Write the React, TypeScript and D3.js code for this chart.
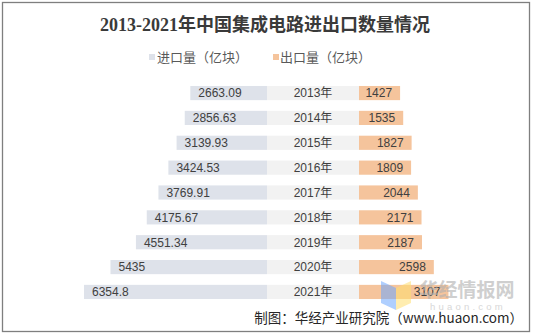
import React from "react";
import * as d3 from "d3";

const years = ["2013年", "2014年", "2015年", "2016年", "2017年", "2018年", "2019年", "2020年", "2021年"];
const importVals = [2663.09, 2856.63, 3139.93, 3424.53, 3769.91, 4175.67, 4551.34, 5435, 6354.8];
const exportVals = [1427, 1535, 1827, 1809, 2044, 2171, 2187, 2598, 3107];
const importLabels = ["2663.09", "2856.63", "3139.93", "3424.53", "3769.91", "4175.67", "4551.34", "5435", "6354.8"];
const seriesNames = ["进口量（亿块）", "出口量（亿块）"];
const title = "2013-2021年中国集成电路进出口数量情况";
const source = "制图：华经产业研究院（www.huaon.com）";

const W = 533;
const H = 334;
const colImport = "#dee2ea";
const colMid = "#f2f2f2";
const colExport = "#f5c49c";
const textCol = "#404040";

export default function App() {
  const centerL = 267;
  const centerR = 359;
  const len = d3.scaleLinear().domain([0, 6354.8]).range([0, 183]);
  const y = d3.scaleBand().domain(years).range([81, 304]).paddingInner(0.43).paddingOuter(0.2);
  const bh = y.bandwidth();
  const sans = "'Liberation Sans', Arial, 'Noto Sans CJK SC', sans-serif";
  const cjk = "'Noto Sans CJK SC', sans-serif";
  return (
    <svg width={W} height={H} style={{ position: "absolute", left: 0, top: 0, display: "block" }}>
      <rect x={0} y={0} width={W} height={H} fill="#fff" />
      <rect x={2.5} y={2.5} width={527} height={329} fill="none" stroke="#7f7f7f" strokeWidth={1.3} />
      <text x={265} y={31} textAnchor="middle" fontSize={18} fontWeight="bold" fill="#3a3a3a"
        fontFamily="'Liberation Serif', 'Noto Sans CJK SC', serif">{title}</text>
      {/* legend */}
      <rect x={149} y={54} width={6} height={6} fill={colImport} />
      <text x={157} y={62} fontSize={13} fill="#595959" fontFamily={cjk}>{seriesNames[0]}</text>
      <rect x={273} y={54} width={6} height={6} fill={colExport} />
      <text x={280} y={62} fontSize={13} fill="#595959" fontFamily={cjk}>{seriesNames[1]}</text>
      {years.map((yr, i) => {
        const yy = y(yr) as number;
        const iw = len(importVals[i]);
        const ew = len(exportVals[i]);
        return (
          <g key={yr}>
            <rect x={centerL - iw} y={yy} width={iw} height={bh} fill={colImport} />
            <rect x={centerL} y={yy} width={centerR - centerL} height={bh} fill={colMid} />
            <rect x={centerR} y={yy} width={ew} height={bh} fill={colExport} />
            <text x={centerL - iw + 8} y={yy + bh / 2 + 4.3} fontSize={12} fill={textCol} fontFamily={sans}>{importLabels[i]}</text>
            <text x={(centerL + centerR) / 2} y={yy + bh / 2 + 4.3} fontSize={12} fill={textCol} textAnchor="middle" fontFamily={sans}>{yr}</text>
            <text x={centerR + ew - 8} y={yy + bh / 2 + 4.3} fontSize={12} fill={textCol} textAnchor="end" fontFamily={sans}>{exportVals[i]}</text>
          </g>
        );
      })}
      {/* watermark */}
      <g opacity={0.55}>
        <polygon points="381,281 396,288 396,310 381,303" fill="#6ea8ff" />
        <polygon points="396,288 411,281 411,303 396,310" fill="#ffe070" />
      </g>
      <text x={467} y={297} textAnchor="middle" fontSize={19} fontWeight="bold" fill="#b0b0b0" opacity={0.6} fontFamily={cjk}>华经情报网</text>
      <text x={468} y={310} textAnchor="middle" fontSize={9.5} fill="#c8c8c8" opacity={0.7} letterSpacing={3.2} fontFamily={sans}>huaon.com</text>
      <text x={523} y={323} textAnchor="end" fontSize={13.5} fill="#262626" fontFamily={cjk}>{source}</text>
    </svg>
  );
}
